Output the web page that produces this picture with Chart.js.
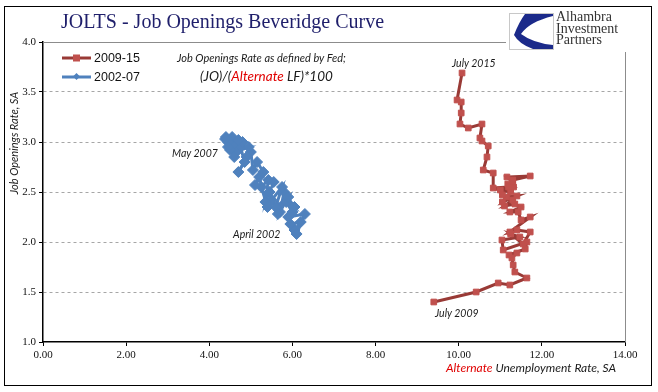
<!DOCTYPE html>
<html>
<head>
<meta charset="utf-8">
<script src="https://cdn.jsdelivr.net/npm/chart.js@4.4.1/dist/chart.umd.min.js"></script>
<style>
  html, body { margin: 0; padding: 0; background: #fff; }
  #wrap { position: relative; width: 658px; height: 392px; overflow: hidden; background: #fff; }
  #c { position: absolute; left: 0; top: 0; }
  .frame { position: absolute; left: 4px; top: 6px; width: 646px; height: 378px; border: 1.5px solid #000; pointer-events: none; }
  .txt { position: absolute; white-space: nowrap; }
  #title { left: 61px; top: 10px; font: 20px "Liberation Serif", serif; color: #1f1f6b; }
  .legend { position: absolute; left: 62px; font: 12.5px "Liberation Sans Narrow", "Liberation Sans", sans-serif; color: #111; display: flex; align-items: center; }
  .legend svg { margin-right: 2px; }
  .note { font-family: Lato, "Open Sans", sans-serif; font-style: italic; color: #1a1a1a; }
  .red { color: #e00000; }
  #logo { position: absolute; left: 506px; top: 8px; width: 122px; height: 44px; background: #fff; }
  #logo .name { position: absolute; left: 50px; top: 3px; font: 14px/11.5px "Liberation Serif", serif; color: #333; }
  #ytitle { left: 13px; top: 143px; transform: translate(-50%, -50%) rotate(-90deg); font-size: 11px; }
</style>
</head>
<body>
<div id="wrap">
  <canvas id="c" width="658" height="392"></canvas>
  <div class="frame"></div>
  <div id="title" class="txt">JOLTS - Job Openings Beveridge Curve</div>

  <div class="legend" style="top:51px">
    <svg width="30" height="12"><line x1="0" y1="6" x2="29" y2="6" stroke="#993a36" stroke-width="3"/><rect x="11" y="2.5" width="7" height="7" fill="#c0504d"/></svg>2009-15
  </div>
  <div class="legend" style="top:70px">
    <svg width="30" height="12"><line x1="0" y1="6" x2="29" y2="6" stroke="#4f81bd" stroke-width="3"/><rect x="12" y="3" width="5" height="5" fill="#4f81bd" transform="rotate(45 14.5 5.5)"/></svg>2002-07
  </div>

  <div class="txt note" style="left:177px; top:51px; font-size:11px;">Job Openings Rate as defined by Fed;</div>
  <div class="txt note" style="left:200px; top:68px; font-size:13.5px;">(JO)/(<span class="red">Alternate</span> LF)*100</div>

  <div class="txt note" style="left:452px; top:57px; font-size:10.5px;">July 2015</div>
  <div class="txt note" style="left:172px; top:147px; font-size:10.5px;">May 2007</div>
  <div class="txt note" style="left:233px; top:228px; font-size:10.5px;">April 2002</div>
  <div class="txt note" style="left:435px; top:307px; font-size:10.5px;">July 2009</div>

  <div id="ytitle" class="txt note">Job Openings Rate, SA</div>
  <div class="txt note" style="left:446px; top:360px; font-size:12px;"><span class="red">Alternate</span> Unemployment Rate, SA</div>

  <div id="logo">
    <svg width="46" height="38" style="position:absolute;left:3px;top:5px">
      <rect x="0.5" y="0.5" width="44" height="36" fill="#fff" stroke="#c8c8c8"/>
      <path d="M16 1 L44 1 L44 3 Q20 9 12 21 Q24 30 44 32 L44 36 L24 36 Q10 31 5 22 Q10 9 16 1 Z" fill="#1b2a8a"/>
    </svg>
    <div class="name">Alhambra<br>Investment<br>Partners</div>
  </div>
</div>

<script>
// 2009-15 (July 2009 -> July 2015): alternate unemployment rate vs job openings rate
const unemp0915 = [9.40, 10.42, 10.95, 11.23, 11.64, 11.35, 11.31, 11.28, 11.40, 11.21,
  11.60, 11.64, 11.07, 11.04, 11.47, 11.25, 11.55, 11.72, 11.40, 11.23,
  11.72, 11.50, 11.43, 11.23, 11.50, 11.35, 11.10, 11.30, 11.15, 11.40,
  11.05, 11.25, 11.00, 11.32, 11.18, 11.05, 11.30, 11.72, 11.16, 11.30,
  11.20, 10.83, 10.83, 10.59, 10.68, 10.71, 10.56, 10.51, 10.56, 10.23,
  10.03, 10.06, 10.06, 9.96, 10.08];
const jobs0915 = [1.40, 1.50, 1.59, 1.57, 1.64, 1.70, 1.77, 1.84, 1.89, 1.87,
  1.93, 2.00, 1.92, 2.02, 2.05, 2.08, 1.98, 2.10, 2.12, 2.10,
  2.25, 2.22, 2.30, 2.30, 2.35, 2.38, 2.36, 2.42, 2.45, 2.46,
  2.40, 2.50, 2.52, 2.55, 2.58, 2.47, 2.62, 2.66, 2.65, 2.60,
  2.55, 2.54, 2.69, 2.72, 2.85, 2.96, 3.01, 3.04, 3.18, 3.14,
  3.18, 3.29, 3.40, 3.42, 3.69];

// 2002-07 (April 2002 -> May 2007)
const unemp0207 = [6.05, 6.20, 5.95, 6.10, 6.30, 5.90, 6.00, 5.85, 6.05, 5.80,
  5.70, 5.90, 5.60, 5.75, 5.50, 5.65, 5.45, 5.55, 5.35, 5.42,
  5.25, 5.40, 5.20, 5.10, 5.30, 5.15, 5.05, 5.00, 4.90, 4.70,
  4.85, 4.75, 4.95, 4.65, 4.80, 4.60, 4.55, 4.70, 4.45, 4.50,
  4.40, 4.60, 4.45, 4.38];
const jobs0207 = [2.12, 2.20, 2.18, 2.08, 2.28, 2.25, 2.30, 2.40, 2.35, 2.50,
  2.30, 2.45, 2.35, 2.55, 2.42, 2.28, 2.50, 2.60, 2.40, 2.62,
  2.55, 2.35, 2.65, 2.57, 2.70, 2.80, 2.72, 2.90, 2.85, 2.70,
  2.80, 2.95, 2.95, 2.90, 3.00, 2.98, 3.05, 3.02, 3.00, 2.92,
  3.05, 2.85, 2.95, 3.03];

const seriesNames = ['2009-15', '2002-07'];
const xRange = [0, 14];
const yRange = [1, 4];

const toPoints = (xs, ys) => xs.map((x, i) => ({ x: x, y: ys[i] }));

// Bordas do plot (topo cinza até o logo e lado direito)
const plotFrame = {
    id: 'plotFrame',
    afterDraw(chart) {
        const { ctx, chartArea: a } = chart;
        ctx.save();
        ctx.strokeStyle = '#8c8c8c';
        ctx.lineWidth = 1;
        ctx.beginPath();
        ctx.moveTo(a.left, a.top + 0.5);
        ctx.lineTo(510, a.top + 0.5);
        ctx.moveTo(a.right + 0.5, a.top);
        ctx.lineTo(a.right + 0.5, a.bottom);
        ctx.stroke();
        ctx.restore();
    }
};

new Chart(document.getElementById('c'), {
    type: 'scatter',
    data: {
        datasets: [{
            label: seriesNames[0],
            data: toPoints(unemp0915, jobs0915),
            showLine: true,
            borderColor: '#993a36',
            borderWidth: 3,
            pointStyle: 'rect',
            pointRadius: 4,
            pointBackgroundColor: '#c0504d',
            pointBorderColor: '#c0504d',
            pointBorderWidth: 1,
            tension: 0
        }, {
            label: seriesNames[1],
            data: toPoints(unemp0207, jobs0207),
            showLine: true,
            borderColor: '#4f81bd',
            borderWidth: 3,
            pointStyle: 'rectRot',
            pointRadius: 5.5,
            pointBackgroundColor: '#4f81bd',
            pointBorderColor: '#4f81bd',
            pointBorderWidth: 1,
            tension: 0
        }]
    },
    options: {
        responsive: false,
        animation: false,
        devicePixelRatio: 1,
        layout: { padding: { left: 0, top: 42, right: 33, bottom: 0 } },
        plugins: { legend: { display: false }, tooltip: { enabled: false } },
        scales: {
            x: {
                type: 'linear',
                min: xRange[0],
                max: xRange[1],
                afterFit: s => { s.height = 50; },
                ticks: {
                    stepSize: 2,
                    padding: 3,
                    color: '#111',
                    font: { family: 'Liberation Serif', size: 11 },
                    callback: v => v.toFixed(2)
                },
                grid: { drawOnChartArea: false, tickLength: 4, tickColor: '#000' },
                border: { color: '#000', width: 1.5 }
            },
            y: {
                min: yRange[0],
                max: yRange[1],
                afterFit: s => { s.width = 43; },
                ticks: {
                    stepSize: 0.5,
                    padding: 3,
                    color: '#111',
                    font: { family: 'Liberation Serif', size: 11 },
                    callback: v => v.toFixed(1)
                },
                grid: {
                    color: c => (c.tick && (c.tick.value === 1 || c.tick.value === 4)) ? 'rgba(0,0,0,0)' : '#a6a6a6',
                    lineWidth: 1,
                    tickLength: 4,
                    tickColor: '#000'
                },
                border: { color: '#000', width: 1.5, dash: [3, 3] }
            }
        }
    },
    plugins: [plotFrame]
});
</script>
</body>
</html>
